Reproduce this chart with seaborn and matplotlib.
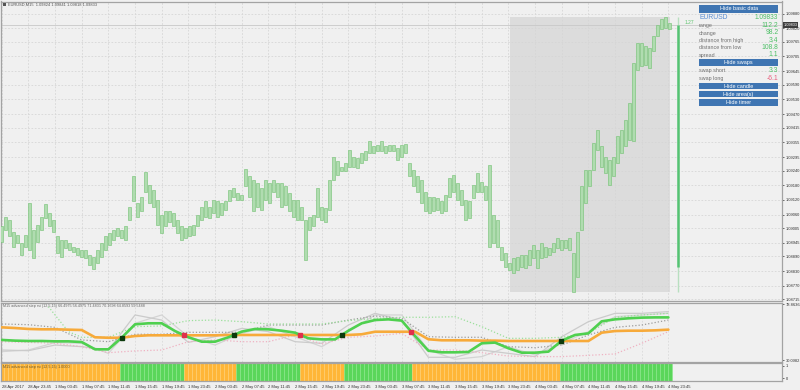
import numpy as np
import pandas as pd
import matplotlib
matplotlib.use("Agg")
import matplotlib.pyplot as plt
from matplotlib.patches import Rectangle
import seaborn as sns

sns.set_theme(style="white")
plt.rcParams["font.family"] = ["Liberation Sans", "DejaVu Sans"]

# ---------------- data ----------------
bar_high = [
    1.09012, 1.09052, 1.09039, 1.08991, 1.08978, 1.08944, 1.08978, 1.09107, 1.08998, 1.09018,
    1.09052, 1.09104, 1.09066, 1.09039, 1.08971, 1.08957, 1.08957, 1.08944, 1.08930, 1.08923,
    1.08916, 1.08916, 1.08896, 1.08889, 1.08916, 1.08944, 1.08971, 1.08984, 1.08998, 1.09005,
    1.08998, 1.09012, 1.09093, 1.09216, 1.09107, 1.09134, 1.09232, 1.09182, 1.09161, 1.09120,
    1.09059, 1.09073, 1.09073, 1.09066, 1.09039, 1.09012, 1.09005, 1.09012, 1.09018, 1.09059,
    1.09093, 1.09114, 1.09093, 1.09120, 1.09114, 1.09107, 1.09114, 1.09161, 1.09168, 1.09148,
    1.09141, 1.09246, 1.09216, 1.09202, 1.09189, 1.09168, 1.09202, 1.09189, 1.09202, 1.09189,
    1.09189, 1.09175, 1.09148, 1.09120, 1.09120, 1.09093, 1.09039, 1.09052, 1.09059, 1.09168,
    1.09093, 1.09087, 1.09202, 1.09297, 1.09277, 1.09256, 1.09270, 1.09325, 1.09297, 1.09291,
    1.09311, 1.09318, 1.09359, 1.09338, 1.09345, 1.09359, 1.09341, 1.09345, 1.09345, 1.09332,
    1.09345, 1.09349, 1.09270, 1.09243, 1.09216, 1.09202, 1.09154, 1.09134, 1.09134, 1.09127,
    1.09114, 1.09141, 1.09209, 1.09223, 1.09189, 1.09161, 1.09120, 1.09114, 1.09182, 1.09230,
    1.09195, 1.09175, 1.09263, 1.09059, 1.09039, 1.08930, 1.08903, 1.08862, 1.08882, 1.08889,
    1.08896, 1.08896, 1.08916, 1.08937, 1.08916, 1.08944, 1.08930, 1.08923, 1.08944, 1.08964,
    1.08957, 1.08957, 1.08964, 1.08903, 1.08990, 1.09175, 1.09243, 1.09243, 1.09352, 1.09406,
    1.09338, 1.09297, 1.09284, 1.09297, 1.09379, 1.09406, 1.09447, 1.09515, 1.09680, 1.09760,
    1.09760, 1.09747, 1.09740, 1.09787, 1.09835, 1.09856, 1.09867, 1.09842,
]
bar_low = [
    1.08950, 1.08998, 1.08971, 1.08930, 1.08944, 1.08896, 1.08930, 1.08916, 1.08882, 1.08950,
    1.08998, 1.09046, 1.09012, 1.08991, 1.08903, 1.08889, 1.08923, 1.08916, 1.08909, 1.08896,
    1.08889, 1.08882, 1.08855, 1.08837, 1.08862, 1.08889, 1.08916, 1.08937, 1.08957, 1.08971,
    1.08964, 1.08957, 1.09039, 1.09114, 1.09052, 1.09073, 1.09154, 1.09107, 1.09093, 1.09018,
    1.08984, 1.09012, 1.09032, 1.09012, 1.08984, 1.08957, 1.08964, 1.08971, 1.08978, 1.09012,
    1.09039, 1.09052, 1.09046, 1.09066, 1.09052, 1.09059, 1.09080, 1.09114, 1.09134, 1.09120,
    1.09118, 1.09175, 1.09134, 1.09073, 1.09093, 1.09080, 1.09120, 1.09107, 1.09154, 1.09134,
    1.09093, 1.09100, 1.09073, 1.09052, 1.09039, 1.09039, 1.08875, 1.08998, 1.09012, 1.09052,
    1.09039, 1.09032, 1.09080, 1.09202, 1.09223, 1.09236, 1.09236, 1.09256, 1.09256, 1.09250,
    1.09270, 1.09284, 1.09311, 1.09311, 1.09318, 1.09318, 1.09311, 1.09318, 1.09318, 1.09284,
    1.09297, 1.09311, 1.09216, 1.09175, 1.09154, 1.09107, 1.09073, 1.09066, 1.09073, 1.09080,
    1.09066, 1.09073, 1.09134, 1.09154, 1.09120, 1.09100, 1.09039, 1.09046, 1.09127, 1.09154,
    1.09154, 1.09120, 1.08930, 1.08944, 1.08930, 1.08875, 1.08848, 1.08835, 1.08821, 1.08835,
    1.08848, 1.08842, 1.08855, 1.08882, 1.08842, 1.08882, 1.08889, 1.08896, 1.08909, 1.08923,
    1.08916, 1.08923, 1.08916, 1.08746, 1.08807, 1.08998, 1.09107, 1.09175, 1.09243, 1.09325,
    1.09256, 1.09230, 1.09182, 1.09216, 1.09270, 1.09311, 1.09338, 1.09366, 1.09359, 1.09651,
    1.09665, 1.09672, 1.09658, 1.09726, 1.09787, 1.09815, 1.09822, 1.09815,
]
HOURS_PER_BAR = 0.6

step_t = list(range(0, 101, 2))
step_rsi_green = [
    47.8, 47.2, 46.9, 46.9, 46.6, 46.6, 46.0, 39.7, 39.7, 49.8,
    61.3, 62.2, 62.2, 55.5, 50.1, 46.3, 46.3, 50.1, 55.0, 57.3,
    57.0, 55.8, 54.1, 49.2, 48.3, 48.3, 55.8, 62.2, 65.0, 65.6,
    64.5, 51.2, 38.5, 37.1, 37.1, 37.4, 44.9, 45.5, 40.6, 36.8,
    36.8, 37.7, 47.2, 52.1, 53.5, 63.9, 65.6, 66.5, 67.1, 67.3, 67.3,
]
step_rsi_orange = [
    58.7, 58.1, 57.3, 57.0, 57.0, 56.7, 56.4, 50.1, 49.7, 49.7,
    51.2, 51.8, 51.8, 51.8, 51.8, 51.8, 51.8, 52.1, 52.1, 52.1,
    52.1, 52.1, 52.1, 52.1, 52.1, 52.1, 52.1, 52.7, 54.9, 54.9,
    54.9, 54.9, 48.4, 47.5, 47.5, 47.5, 47.2, 47.2, 46.9, 46.9,
    46.9, 46.9, 46.9, 46.9, 46.9, 54.1, 55.5, 55.8, 55.8, 56.1, 56.7,
]

band_t = list(range(0, 101, 4))
rsi_fast_grey = [39.1, 38.5, 43.4, 42.0, 39.1, 69.4, 65.0, 45.7, 50.6, 57.8, 55.0, 46.3, 44.9,
                 60.7, 70.8, 65.0, 32.8, 32.8, 39.1, 36.2, 33.4, 50.6, 63.6, 70.8, 70.8, 72.3]
rsi_slow_grey = [37.7, 39.1, 45.5, 44.9, 36.2, 62.2, 69.4, 50.6, 43.4, 53.5, 59.3, 50.6, 42.0,
                 55.0, 69.4, 69.4, 39.1, 31.1, 33.4, 42.0, 34.8, 44.9, 55.0, 67.9, 69.4, 70.8]
level_mid_grey = [61.6, 61.0, 58.7, 47.8, 46.3, 52.7, 52.7, 54.4, 54.4, 54.4, 60.7, 60.7, 60.7,
                  65.0, 68.5, 66.5, 50.6, 50.1, 50.1, 42.0, 41.1, 43.4, 52.1, 58.7, 60.7, 65.0]
level_dn_pink = [46.3, 45.7, 44.9, 42.0, 36.8, 38.3, 39.1, 46.3, 47.8, 46.3, 46.3, 52.1, 44.3,
                 50.1, 51.2, 53.5, 39.1, 39.1, 36.8, 33.9, 33.4, 33.4, 34.5, 35.7, 44.9, 55.0]
level_up_t = [7, 8, 10] + list(range(12, 101, 4))
level_up_green = [76.6, 69.4, 55.0, 50.1, 50.1, 59.3, 59.9, 64.5, 65.0, 63.6, 61.6, 61.6, 61.6,
                  64.5, 66.5, 67.4, 67.4, 67.9, 59.3, 49.2, 49.2, 50.1, 53.5, 67.4, 69.4, 70.8]

time_label_t = list(range(0, 101, 4))
time_labels = ["28 Apr 2017", "28 Apr 23:45", "1 May 03:45", "1 May 07:45", "1 May 11:45",
               "1 May 15:45", "1 May 19:45", "1 May 23:45", "2 May 03:45", "2 May 07:45",
               "2 May 11:45", "2 May 15:45", "2 May 19:45", "2 May 23:45", "3 May 03:45",
               "3 May 07:45", "3 May 11:45", "3 May 15:45", "3 May 19:45", "3 May 23:45",
               "4 May 03:45", "4 May 07:45", "4 May 11:45", "4 May 15:45", "4 May 19:45",
               "4 May 23:45"]
price_ticks = [1.09880, 1.09820, 1.09765, 1.09705, 1.09645, 1.09590, 1.09530, 1.09470,
               1.09415, 1.09355, 1.09295, 1.09240, 1.09180, 1.09120, 1.09060, 1.09005,
               1.08945, 1.08890, 1.08830, 1.08770, 1.08715]
ind_ticks = [30.0982, 78.8636]

area_t = (76.25, 100.25)
area_high, area_low = 1.09867, 1.08745
bid = 1.09833
timer_t = 101.4
timer_fill = (1.08848, 1.09833)

title_main = "EURUSD,M15  1.09824 1.09841 1.09818 1.09833"
title_ind = "M15 advanced step rsi (12,5,15) 66.4975 56.4975 71.4831 70.1698 64.8593 59.5488"
title_hist = "M15 advanced step rsi (12,5,15) 1.0000"
info_rows = [("range", "112.2"), ("change", "98.2"), ("distance from high", "3.4"),
             ("distance from low", "108.8"), ("spread", "1.1")]
swap_rows = [("swap short", "3.3"), ("swap long", "-6.1")]

# ---------------- layout ----------------
BG = "#f0f0f0"
W, H = 800, 390
fig = plt.figure(figsize=(8, 3.9), dpi=100, facecolor=BG)


def box(y0, y1, x0=0.5, x1=782):
    return [x0 / W, 1 - y1 / H, (x1 - x0) / W, (y1 - y0) / H]


ax_p = fig.add_axes(box(1.5, 301))
ax_i = fig.add_axes(box(303, 361.5))
ax_h = fig.add_axes(box(363, 380.5))

PX_PER_H, X0 = 6.667, 1.7
xlim = ((0.5 - X0) / PX_PER_H, (782 - X0) / PX_PER_H)
for ax in (ax_p, ax_i, ax_h):
    ax.set_facecolor(BG)
    ax.set_xlim(*xlim)
    for s in ax.spines.values():
        s.set_color("#a3a3a3")
        s.set_linewidth(0.9)
    ax.yaxis.tick_right()
    ax.tick_params(axis="y", labelsize=2.9, length=1.5, width=0.5, pad=1,
                   colors="#303030", left=False, right=True)
    ax.set_axisbelow(True)

# ---------------- main price panel ----------------
t_bar = np.arange(len(bar_high)) * HOURS_PER_BAR
df_bars = pd.DataFrame({"t": t_bar, "high": bar_high, "low": bar_low})
ax_p.add_patch(Rectangle((area_t[0], area_low), area_t[1] - area_t[0], area_high - area_low,
                         facecolor="#dcdcdc", edgecolor="none", zorder=0.2))
ax_p.axhline(bid, color="#c8c8c8", lw=0.6, zorder=1)
ax_p.bar(df_bars["t"], df_bars["high"] - df_bars["low"], bottom=df_bars["low"],
         width=HOURS_PER_BAR * 0.7, color="#b0dcb0", edgecolor="#70c070", linewidth=0.4,
         zorder=3)
ax_p.vlines([timer_t], area_low, area_high, color="#b8dfc0", lw=1.0, zorder=3)
ax_p.vlines([timer_t], timer_fill[0], timer_fill[1], color="#55c373", lw=1.8, zorder=4)
ax_p.set_ylim(1.08708, 1.09929)
ax_p.set_yticks(price_ticks)
ax_p.set_yticklabels([f"{p:.5f}" for p in price_ticks])
ax_p.set_xticks(time_label_t)
ax_p.tick_params(axis="x", bottom=False, labelbottom=False)
ax_p.grid(True, color="#d6d6d6", ls=(0, (2, 2)), lw=0.6)
ax_p.set_xlabel("")
ax_p.set_ylabel("")

# ---------------- indicator panel ----------------
dotted = (0, (1, 1.6))
sns.lineplot(x=band_t, y=rsi_slow_grey, ax=ax_i, color="#d4d4d4", lw=0.9, zorder=2)
sns.lineplot(x=band_t, y=rsi_fast_grey, ax=ax_i, color="#cbcbcb", lw=0.9, zorder=2)
sns.lineplot(x=band_t, y=level_mid_grey, ax=ax_i, color="#9c9c9c", lw=0.9, linestyle=dotted, zorder=3)
sns.lineplot(x=band_t, y=level_dn_pink, ax=ax_i, color="#efb2c2", lw=0.9, linestyle=dotted, zorder=3)
sns.lineplot(x=level_up_t, y=level_up_green, ax=ax_i, color="#9be09b", lw=0.9, linestyle=dotted, zorder=3)
sns.lineplot(x=step_t, y=step_rsi_orange, ax=ax_i, color="#f7aa3a", lw=1.9, zorder=4)
sns.lineplot(x=step_t, y=step_rsi_green, ax=ax_i, color="#4fd04f", lw=1.9, zorder=5)

g = np.array(step_rsi_green)
o = np.array(step_rsi_orange)
ts = np.array(step_t, dtype=float)
d = g - o
for i in range(len(d) - 1):
    if (d[i] < 0 <= d[i + 1]) or (d[i] > 0 >= d[i + 1]):
        f = d[i] / (d[i] - d[i + 1])
        tc = ts[i] + f * (ts[i + 1] - ts[i])
        vc = o[i] + f * (o[i + 1] - o[i])
        col = "#0c3a0c" if d[i] < 0 else "#e0304c"
        ax_i.plot([tc], [vc], marker="s", ms=2.6, color=col, mec=col, zorder=6)

ax_i.set_ylim(29.17, 79.74)
ax_i.set_yticks(ind_ticks)
ax_i.set_yticklabels([f"{v:.4f}" for v in ind_ticks])
ax_i.set_xticks(time_label_t)
ax_i.tick_params(axis="x", bottom=False, labelbottom=False)
ax_i.grid(True, axis="x", color="#dadada", ls=(0, (2, 2)), lw=0.6)
ax_i.set_xlabel("")
ax_i.set_ylabel("")

# ---------------- histogram panel ----------------
gi = np.interp(t_bar, ts, g)
oi = np.interp(t_bar, ts, o)
up = gi > oi
face = np.where(up, "#5ad65a", "#ffb637")
edge = np.where(up, "#8be78b", "#ffcf72")
ax_h.bar(t_bar, np.ones_like(t_bar), width=HOURS_PER_BAR, bottom=0, color=face,
         edgecolor=edge, linewidth=0.45, align="center", zorder=2)
ax_h.set_ylim(0, 1)
ax_h.set_yticks([0.126, 0.83])
ax_h.set_yticklabels(["0", "1"])
ax_h.set_xticks(time_label_t)
ax_h.set_xticklabels(time_labels)
ax_h.tick_params(axis="x", labelsize=3.0, length=2, width=0.5, pad=1.5, colors="#303030")
for lab in ax_h.get_xticklabels():
    lab.set_ha("left")

# ---------------- texts and overlay ----------------
def fx(x):
    return x / W


def fy(y):
    return 1 - y / H


fig.add_artist(Rectangle((fx(2.5), fy(6)), 3 / W, 3 / H, transform=fig.transFigure,
                         facecolor="#555555", edgecolor="none"))
fig.text(fx(7.5), fy(4.6), title_main, fontsize=2.9, color="#555555", va="center", ha="left")
fig.text(fx(2.7), fy(306), title_ind, fontsize=2.7, color="#666666", va="center", ha="left")
fig.text(fx(2.7), fy(367), title_hist, fontsize=2.7, color="#6b5a30", va="center", ha="left")

fig.text(fx(684.5), fy(22.5), "1.27", fontsize=3.5, color="#5cc46c", va="center", ha="left")

fig.text(fx(783.5), fy(25), "1.09833", fontsize=2.8, color="white", va="center", ha="left",
         bbox=dict(boxstyle="square,pad=0.25", facecolor="#3d3d3d", edgecolor="none"))

BTN = "#3f75b2"
PX0, PX1 = 699, 778.3


def button(label, y0, y1):
    fig.add_artist(Rectangle((fx(PX0), fy(y1)), (PX1 - PX0) / W, (y1 - y0) / H,
                             transform=fig.transFigure, facecolor=BTN, edgecolor="none"))
    fig.text(fx((PX0 + PX1) / 2), fy((y0 + y1) / 2), label, fontsize=4.0, color="white",
             ha="center", va="center")


button("Hide basic data", 5, 12.5)
fig.text(fx(PX0), fy(17.3), "EURUSD", fontsize=4.9, color="#5a8ed4", ha="left", va="center")
fig.text(fx(PX1), fy(17.3), "1.09833", fontsize=4.7, color="#4dbf66", ha="right", va="center")
row_y = [25.4, 33, 40.3, 47.7, 55]
for (lab, val), yy in zip(info_rows, row_y):
    fig.text(fx(PX0), fy(yy), lab, fontsize=3.9, color="#707070", ha="left", va="center")
    fig.text(fx(PX1), fy(yy), val, fontsize=4.9, color="#4dbf66", ha="right", va="center")
button("Hide swaps", 59.3, 65.7)
swap_y = [70.8, 78.6]
swap_col = ["#4dbf66", "#e8607e"]
for (lab, val), yy, c in zip(swap_rows, swap_y, swap_col):
    fig.text(fx(PX0), fy(yy), lab, fontsize=3.9, color="#707070", ha="left", va="center")
    fig.text(fx(PX1), fy(yy), val, fontsize=4.9, color=c, ha="right", va="center")
button("Hide candle", 82.8, 89.3)
button("Hide area(s)", 91, 97.4)
button("Hide timer", 99.3, 105.6)

fig.savefig("out.png", dpi=100, facecolor=BG)
